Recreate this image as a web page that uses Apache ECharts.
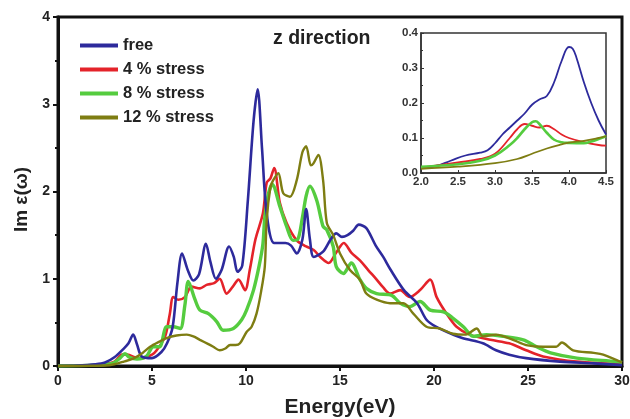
<!DOCTYPE html>
<html>
<head>
<meta charset="utf-8">
<script src="https://cdn.jsdelivr.net/npm/echarts@6/dist/echarts.min.js"></script>
<style>
  html, body { margin: 0; padding: 0; background: #fff; }
  #chart { width: 630px; height: 419px; }
</style>
</head>
<body>
<div id="chart"></div>
<script>
// series names
var seriesNames = ['free', '4 % stress', '8 % stress', '12 % stress']
var seriesColors = ['#2d2a9c', '#e4232a', '#55cc3f', '#7e7d12']

// main panel: [energy, Im eps]
var freeMain = [[0,0],[1,0.005],[2,0.02],[2.5,0.04],[3,0.1],[3.5,0.2],[3.75,0.26],[4.0,0.36],[4.2,0.25],[4.45,0.11],[5.0,0.09],[5.5,0.16],[5.8,0.26],[6.1,0.45],[6.35,0.95],[6.6,1.29],[6.9,1.1],[7.2,0.98],[7.5,1.05],[7.87,1.40],[8.1,1.2],[8.4,1.0],[8.7,1.1],[9.1,1.37],[9.35,1.25],[9.55,1.08],[9.8,1.15],[10.1,1.9],[10.4,2.8],[10.62,3.17],[10.85,2.5],[11.1,1.75],[11.5,1.41],[12.1,1.41],[12.4,1.38],[12.7,1.29],[13.0,1.45],[13.2,1.8],[13.4,1.45],[13.6,1.25],[14.1,1.31],[14.5,1.45],[14.8,1.52],[15.1,1.48],[15.4,1.50],[15.7,1.55],[16.0,1.62],[16.4,1.58],[16.9,1.38],[17.3,1.25],[17.7,1.10],[18.4,0.87],[19.1,0.72],[19.6,0.53],[20.1,0.45],[20.8,0.38],[21.5,0.32],[22.6,0.26],[23.3,0.18],[24,0.13],[24.9,0.09],[26.7,0.05],[28.5,0.03],[30,0.01]]
var stress4Main = [[0,0],[2,0.01],[3,0.05],[3.4,0.13],[3.7,0.13],[4.1,0.1],[4.5,0.09],[5.0,0.13],[5.25,0.18],[5.7,0.34],[5.95,0.6],[6.13,0.79],[6.4,0.76],[6.75,0.79],[7.1,0.91],[7.55,0.89],[7.9,0.93],[8.3,0.95],[8.6,1.0],[8.97,0.83],[9.3,0.91],[9.6,0.99],[9.95,0.87],[10.2,1.1],[10.5,1.45],[10.9,1.75],[11.1,2.1],[11.3,2.15],[11.5,2.27],[11.8,1.87],[12.16,1.64],[12.7,1.44],[13.2,1.37],[13.6,1.33],[13.95,1.25],[14.4,1.18],[14.8,1.3],[15.2,1.41],[15.6,1.3],[16.06,1.21],[16.5,1.1],[16.95,0.99],[17.3,0.9],[17.66,0.83],[18.2,0.87],[18.7,0.79],[19.26,0.87],[19.8,0.99],[20.14,0.79],[20.67,0.6],[21.2,0.45],[21.9,0.36],[23.0,0.30],[24.0,0.26],[24.9,0.18],[25.8,0.11],[27.6,0.05],[30,0.02]]
var stress8Main = [[0,0],[2,0.01],[2.9,0.03],[3.3,0.09],[3.56,0.14],[3.8,0.1],[4.2,0.08],[4.7,0.11],[5.07,0.22],[5.4,0.22],[5.78,0.45],[6.13,0.45],[6.5,0.43],[6.75,0.7],[6.93,0.97],[7.29,0.76],[7.55,0.64],[8.0,0.6],[8.44,0.51],[8.78,0.41],[9.33,0.43],[9.77,0.53],[10.03,0.64],[10.4,0.87],[10.7,1.15],[10.9,1.4],[11.0,1.7],[11.2,1.98],[11.4,2.08],[11.8,1.83],[12.16,1.6],[12.5,1.44],[12.75,1.45],[13.0,1.7],[13.2,1.95],[13.4,2.06],[13.76,1.9],[14.1,1.6],[14.3,1.56],[14.64,1.37],[14.8,1.14],[15.18,1.06],[15.6,1.18],[16.06,0.99],[16.4,0.89],[16.95,0.83],[17.75,0.81],[18.2,0.72],[18.72,0.68],[19.26,0.74],[19.8,0.64],[20.5,0.62],[21.0,0.55],[21.56,0.45],[22.1,0.34],[22.8,0.36],[23.7,0.34],[24.75,0.30],[25.46,0.22],[26.2,0.15],[27.6,0.09],[29.7,0.05],[30,0.04]]
var stress12Main = [[0,0],[2.5,0.005],[3,0.02],[3.5,0.05],[4,0.085],[4.5,0.15],[4.9,0.22],[5.4,0.28],[5.78,0.32],[6.3,0.35],[6.85,0.36],[7.2,0.34],[7.55,0.30],[8.0,0.25],[8.26,0.22],[8.6,0.18],[8.9,0.2],[9.15,0.24],[9.45,0.24],[9.68,0.26],[10.03,0.39],[10.3,0.45],[10.56,0.60],[10.8,0.85],[11.0,1.14],[11.1,1.67],[11.3,2.05],[11.45,2.13],[11.72,2.21],[11.98,1.98],[12.34,1.94],[12.7,2.13],[13.0,2.45],[13.2,2.52],[13.45,2.3],[13.58,2.32],[13.85,2.42],[14.1,2.13],[14.3,1.64],[14.64,1.5],[15.0,1.29],[15.53,1.10],[16.06,0.99],[16.4,0.83],[16.95,0.76],[17.66,0.72],[18.37,0.72],[18.9,0.60],[19.6,0.45],[20.3,0.43],[21.0,0.37],[21.7,0.36],[22.27,0.43],[22.6,0.34],[23.3,0.36],[24.2,0.30],[24.9,0.24],[25.8,0.22],[26.5,0.22],[26.8,0.27],[27.4,0.18],[28.5,0.15],[29.0,0.13],[30,0.04]]

// inset panel (2.0 - 4.5 eV)
var freeInset = [[2.0,0.015],[2.2,0.02],[2.4,0.035],[2.6,0.05],[2.8,0.058],[2.9,0.065],[3.0,0.085],[3.1,0.11],[3.2,0.13],[3.3,0.15],[3.4,0.17],[3.5,0.195],[3.6,0.21],[3.7,0.22],[3.8,0.26],[3.9,0.32],[4.0,0.36],[4.05,0.355],[4.1,0.33],[4.2,0.26],[4.3,0.2],[4.4,0.15],[4.5,0.11]]
var stress4Inset = [[2.0,0.015],[2.5,0.03],[2.8,0.04],[3.0,0.055],[3.2,0.1],[3.3,0.125],[3.4,0.14],[3.5,0.135],[3.6,0.13],[3.7,0.135],[3.8,0.125],[3.9,0.11],[4.0,0.1],[4.2,0.088],[4.4,0.08],[4.5,0.078]]
var stress8Inset = [[2.0,0.018],[2.5,0.025],[2.8,0.035],[3.0,0.05],[3.2,0.08],[3.3,0.1],[3.4,0.125],[3.5,0.145],[3.55,0.148],[3.6,0.14],[3.7,0.115],[3.8,0.095],[3.9,0.088],[4.0,0.086],[4.2,0.085],[4.3,0.09],[4.4,0.097],[4.5,0.105]]
var stress12Inset = [[2.0,0.012],[2.5,0.018],[3.0,0.028],[3.3,0.04],[3.5,0.055],[3.7,0.07],[3.9,0.082],[4.0,0.087],[4.2,0.092],[4.4,0.1],[4.5,0.105]]

var mainData = [freeMain, stress4Main, stress8Main, stress12Main]
var insetData = [freeInset, stress4Inset, stress8Inset, stress12Inset]
var mainWidths = [2.6, 2.6, 3.4, 2.4]

var fontFam = 'Liberation Sans, Arial, sans-serif'
var myChart = echarts.init(document.getElementById('chart'))

var series = []
seriesNames.forEach(function (name, i) {
  series.push({
    name: name,
    type: 'line',
    xAxisIndex: 0,
    yAxisIndex: 0,
    data: mainData[i],
    smooth: 0.3,
    showSymbol: false,
    lineStyle: { width: mainWidths[i], color: seriesColors[i] },
    itemStyle: { color: seriesColors[i] },
    z: 2 + (i === 0 ? 3 : i)
  })
})
seriesNames.forEach(function (name, i) {
  series.push({
    name: name,
    type: 'line',
    xAxisIndex: 1,
    yAxisIndex: 1,
    data: insetData[i],
    smooth: 0.4,
    showSymbol: false,
    lineStyle: { width: i === 2 ? 2.6 : 1.8, color: seriesColors[i] },
    itemStyle: { color: seriesColors[i] },
    z: 10
  })
})

var option = {
  backgroundColor: '#fff',
  animation: false,
  title: {
    text: 'z direction',
    left: 268,
    top: 24,
    textStyle: { fontFamily: fontFam, fontSize: 19.5, fontWeight: 'bold', color: '#222' }
  },
  legend: {
    data: seriesNames,
    orient: 'vertical',
    left: 75,
    top: 32,
    itemWidth: 38,
    itemHeight: 4,
    itemGap: 7,
    icon: 'rect',
    textStyle: { fontFamily: fontFam, fontSize: 16.5, fontWeight: 'bold', color: '#222' }
  },
  grid: [
    { left: 58, top: 17, right: 8, bottom: 53, outerBoundsMode: 'none', containLabel: false, show: true, borderColor: '#111', borderWidth: 3, backgroundColor: 'transparent' },
    { left: 421, top: 33, width: 185, height: 140, outerBoundsMode: 'none', containLabel: false, show: true, borderColor: '#333', borderWidth: 1.5, backgroundColor: '#fff', z: 5 }
  ],
  xAxis: [
    {
      gridIndex: 0,
      type: 'value',
      min: 0,
      max: 30,
      interval: 5,
      name: 'Energy(eV)',
      nameLocation: 'middle',
      nameGap: 31,
      nameTextStyle: { fontFamily: fontFam, fontSize: 21, fontWeight: 'bold', color: '#222' },
      axisLine: { lineStyle: { color: '#111', width: 3 } },
      axisTick: { inside: false, length: 5, lineStyle: { color: '#111', width: 2 } },
      axisLabel: { fontFamily: fontFam, fontSize: 14, fontWeight: 'bold', color: '#222', margin: 8 },
      splitLine: { show: false }
    },
    {
      gridIndex: 1,
      type: 'value',
      min: 2,
      max: 4.5,
      interval: 0.5,
      axisLine: { lineStyle: { color: '#333', width: 1.5 } },
      axisTick: { inside: true, length: 3, lineStyle: { color: '#333' } },
      axisLabel: {
        fontFamily: fontFam, fontSize: 11.5, fontWeight: 'bold', color: '#333', margin: 3,
        formatter: function (v) { return v.toFixed(1) }
      },
      splitLine: { show: false },
      z: 6
    }
  ],
  yAxis: [
    {
      gridIndex: 0,
      type: 'value',
      min: 0,
      max: 4,
      interval: 1,
      name: 'Im ε(ω)',
      nameLocation: 'middle',
      nameGap: 27,
      nameTextStyle: { fontFamily: fontFam, fontSize: 19, fontWeight: 'bold', color: '#222', padding: [0, 16, 0, 0] },
      axisLine: { lineStyle: { color: '#111', width: 3 } },
      axisTick: { inside: false, length: 5, lineStyle: { color: '#111', width: 2 } },
      minorTick: { show: true, splitNumber: 2, length: 3, lineStyle: { color: '#111', width: 2 } },
      axisLabel: { fontFamily: fontFam, fontSize: 14, fontWeight: 'bold', color: '#222', margin: 8 },
      splitLine: { show: false }
    },
    {
      gridIndex: 1,
      type: 'value',
      min: 0,
      max: 0.4,
      interval: 0.1,
      axisLine: { lineStyle: { color: '#333', width: 1.5 } },
      axisTick: { inside: true, length: 3, lineStyle: { color: '#333' } },
      minorTick: { show: true, splitNumber: 2, length: 2, lineStyle: { color: '#333' } },
      axisLabel: {
        fontFamily: fontFam, fontSize: 11.5, fontWeight: 'bold', color: '#333', margin: 3,
        formatter: function (v) { return v.toFixed(1) }
      },
      splitLine: { show: false },
      z: 6
    }
  ],
  series: series
}

myChart.setOption(option)
</script>
</body>
</html>
